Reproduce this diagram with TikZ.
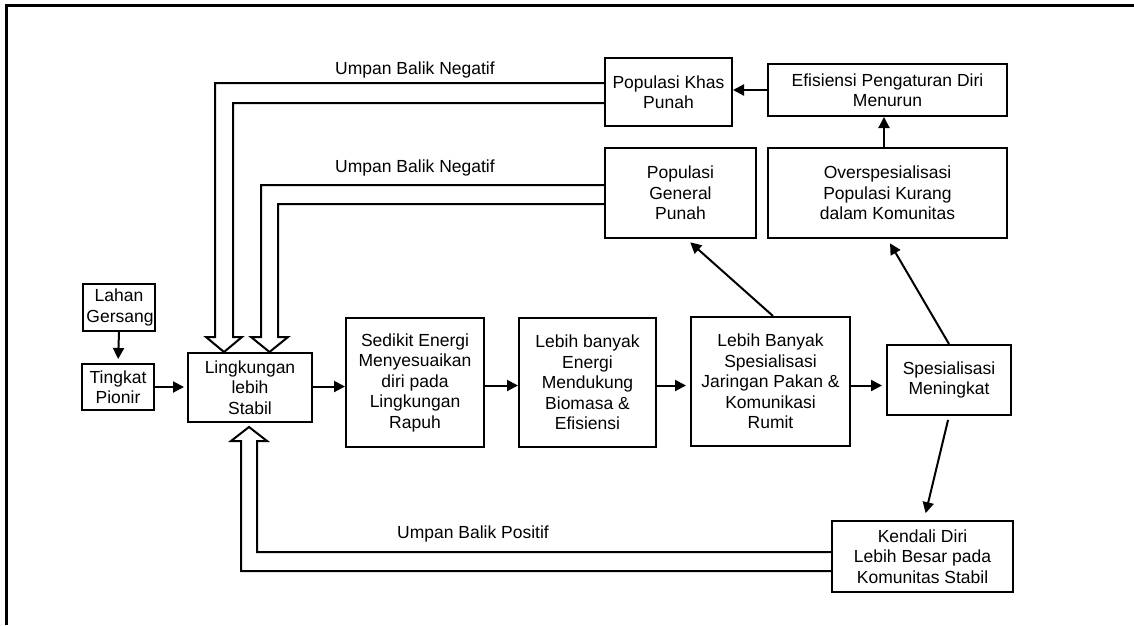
\documentclass[tikz,border=0pt]{standalone}
\usepackage{fontspec}
\setmainfont{Liberation Sans}
\usetikzlibrary{arrows.meta,calc}

\tikzset{
  box/.style={draw, line width=2pt, inner sep=0pt, align=center,
    font=\fontsize{17.5}{20.5}\selectfont},
  flow/.style={line width=2pt, -{Triangle[length=11pt,width=11pt]}},
  fat/.style={line width=2pt, line join=miter},
  lbl/.style={inner sep=0pt, font=\fontsize{17.5}{20.5}\selectfont}
}

\begin{document}
\begin{tikzpicture}[x=1pt,y=-1pt]
\useasboundingbox (0,0) rectangle (1134,625);
\fill[white] (0,0) rectangle (1134,625);

% frame (left and top rules)
\draw[line width=3pt] (6,625) -- (6,5) -- (1134,5);

% boxes
\node[box, minimum width=72pt,  minimum height=47pt]  (lahan)   at (119,307.5)  {Lahan\\\hspace*{2pt}Gersang};
\node[box, minimum width=72pt,  minimum height=46pt]  (tingkat) at (118,387)    {Tingkat\\Pionir};
\node[box, minimum width=124pt, minimum height=69pt]  (ling)    at (250,387.5)  {Lingkungan\\lebih\\Stabil};
\node[box, minimum width=138pt, minimum height=129pt] (sedikit) at (415,382.5)  {Sedikit Energi\\Menyesuaikan\\diri pada\\Lingkungan\\Rapuh};
\node[box, minimum width=137pt, minimum height=129pt] (lebih)   at (587.5,382.5){Lebih banyak\\Energi\\Mendukung\\Biomasa \&\\Efisiensi};
\node[box, minimum width=159pt, minimum height=129pt] (banyak)  at (770.5,381.5){Lebih Banyak\\Spesialisasi\\Jaringan Pakan \&\\Komunikasi\\Rumit};
\node[box, minimum width=124pt, minimum height=70pt]  (spes)    at (949,380)    {Spesialisasi\\Meningkat};
\node[box, minimum width=181pt, minimum height=71pt]  (kendali) at (922.5,556.5){Kendali Diri\\Lebih Besar pada\\Komunitas Stabil};
\node[box, minimum width=127pt, minimum height=68pt]  (khas)    at (668.5,92)   {Populasi Khas\\Punah};
\node[box, minimum width=239pt, minimum height=52pt]  (efis)    at (887.5,90)   {Efisiensi Pengaturan Diri\\Menurun};
\node[box, minimum width=239pt, minimum height=90pt]  (over)    at (887.5,193)  {Overspesialisasi\\Populasi Kurang\\dalam Komunitas};
\node[box, minimum width=151pt, minimum height=90pt]  (general) at (680.5,193)  {Populasi\\General\\Punah};

% feedback labels
\node[lbl] (neg1) at (415,70)  {Umpan Balik Negatif};
\node[lbl] (neg2) at (415,168) {Umpan Balik Negatif};
\node[lbl] (pos)  at (473,534) {Umpan Balik Positif};

% main chain
\draw[flow, shorten >=4pt] (lahan.south) -- (tingkat.north);
\draw[flow, shorten >=3pt] (tingkat.east) -- (tingkat.east -| ling.west);
\draw[flow] ([yshift=1pt]ling.east) -- ([yshift=1pt]ling.east -| sedikit.west);
\draw[flow] ([yshift=-3pt]sedikit.east) -- ([yshift=-3pt]sedikit.east -| lebih.west);
\draw[flow, shorten >=4pt] ([yshift=-3pt]lebih.east) -- ([yshift=-3pt]lebih.east -| banyak.west);
\draw[flow, shorten >=4pt] ([yshift=-4pt]banyak.east) -- ([yshift=-4pt]banyak.east -| spes.west);
\draw[flow, shorten <=4pt, shorten >=7pt] (spes.south) -- ([xshift=1.5pt]kendali.north);
\draw[flow, shorten >=5pt] ([xshift=2.5pt]banyak.north) -- ([xshift=6pt]general.south);
\draw[flow, shorten >=5pt] (spes.north) -- (over.south);
\draw[flow] ([xshift=-3.5pt]over.north) -- ([xshift=-3.5pt]efis.south);
\draw[flow] (efis.west) -- (efis.west -| khas.east);

% hollow feedback arrows
\draw[fat] ([yshift=9pt]khas.west) -| (215,337) -- (206,337) -- (224,352)
  -- (242,337) -- (233,337) |- ([yshift=-11pt]khas.west);
\draw[fat] ([yshift=8pt]general.west) -| (261,337) -- (251,337) -- (269.5,352)
  -- (288,337) -- (278,337) |- ([yshift=-11pt]general.west);
\draw[fat] ([yshift=-14.5pt]kendali.west) -| (241,441) -- (231,441) -- (249,427)
  -- (267,441) -- (257,441) |- ([yshift=4.5pt]kendali.west);
\end{tikzpicture}
\end{document}
